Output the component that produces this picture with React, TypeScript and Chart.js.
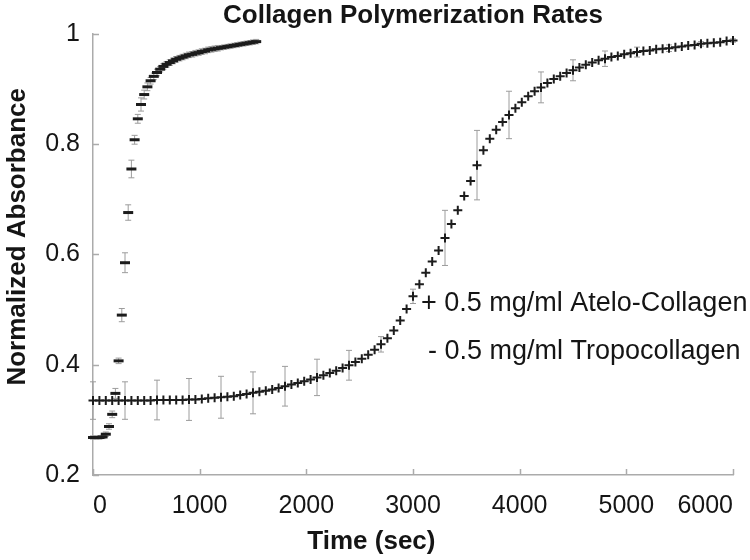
import { useEffect, useRef } from 'react';
import { Chart, registerables } from 'chart.js';

Chart.register(...registerables);

const FONT = '"Liberation Sans", Arial, Helvetica, sans-serif';

const titleText = 'Collagen Polymerization Rates';
const xTitle = 'Time (sec)';
const yTitle = 'Normalized Absorbance';
const labelA = '+ 0.5 mg/ml Atelo-Collagen';
const labelB = '- 0.5 mg/ml Tropocollagen';

const xTickValues = [0, 1000, 2000, 3000, 4000, 5000, 6000];
const yTickValues = [0.2, 0.4, 0.6, 0.8, 1];

// Atelo-collagen (+ markers), sampled every 60 s
const timesA = [
  0, 60, 120, 180, 240, 300, 360, 420, 480, 540,
  600, 660, 720, 780, 840, 900, 960, 1020, 1080, 1140,
  1200, 1260, 1320, 1380, 1440, 1500, 1560, 1620, 1680, 1740,
  1800, 1860, 1920, 1980, 2040, 2100, 2160, 2220, 2280, 2340,
  2400, 2460, 2520, 2580, 2640, 2700, 2760, 2820, 2880, 2940,
  3000, 3060, 3120, 3180, 3240, 3300, 3360, 3420, 3480, 3540,
  3600, 3660, 3720, 3780, 3840, 3900, 3960, 4020, 4080, 4140,
  4200, 4260, 4320, 4380, 4440, 4500, 4560, 4620, 4680, 4740,
  4800, 4860, 4920, 4980, 5040, 5100, 5160, 5220, 5280, 5340,
  5400, 5460, 5520, 5580, 5640, 5700, 5760, 5820, 5880, 5940,
  6000,
];
const valuesA = [
  0.335, 0.335, 0.335, 0.335, 0.335, 0.335, 0.335, 0.335, 0.335, 0.335,
  0.336, 0.336, 0.336, 0.336, 0.336, 0.337, 0.337, 0.338, 0.339, 0.340,
  0.341, 0.342, 0.343, 0.345, 0.347, 0.349, 0.351, 0.353, 0.355, 0.358,
  0.361, 0.364, 0.367, 0.370, 0.373, 0.377, 0.381, 0.385, 0.389, 0.394,
  0.399, 0.405, 0.411, 0.418, 0.427, 0.437, 0.448, 0.462, 0.480, 0.501,
  0.524, 0.546, 0.567, 0.587, 0.607, 0.630, 0.655, 0.680, 0.706, 0.733,
  0.762, 0.789, 0.810, 0.826, 0.840, 0.853, 0.865, 0.876, 0.887, 0.896,
  0.903, 0.911, 0.918, 0.923, 0.929, 0.934, 0.939, 0.944, 0.948, 0.952,
  0.955, 0.958, 0.960, 0.963, 0.965, 0.967, 0.969, 0.970, 0.972, 0.973,
  0.974, 0.976, 0.977, 0.979, 0.980, 0.982, 0.983, 0.984, 0.985, 0.987,
  0.988,
];
// error bars of the atelo-collagen series, every 300 s
const errTimesA = [0, 300, 600, 900, 1200, 1500, 1800, 2100, 2400, 2700, 3000, 3300, 3600, 3900, 4200, 4500, 4800, 5100, 5400, 5700, 6000];
const errValuesA = [0.034, 0.034, 0.036, 0.038, 0.038, 0.038, 0.036, 0.033, 0.027, 0.014, 0.013, 0.05, 0.063, 0.043, 0.028, 0.019, 0.014, 0.009, 0.006, 0.004, 0.003];

// Tropocollagen (- markers), sampled every 30 s
const timesB = [
  0, 30, 60, 90, 120, 150, 180, 210, 240, 270,
  300, 330, 360, 390, 420, 450, 480, 510, 540, 570,
  600, 630, 660, 690, 720, 750, 780, 810, 840, 870,
  900, 930, 960, 990, 1020, 1050, 1080, 1110, 1140, 1170,
  1200, 1230, 1260, 1290, 1320, 1350, 1380, 1410, 1440, 1470,
  1500, 1530,
];
const valuesB = [
  0.268, 0.268, 0.268, 0.269, 0.274, 0.288, 0.310, 0.348, 0.407, 0.490,
  0.585, 0.676, 0.755, 0.808, 0.846, 0.872, 0.890, 0.904, 0.915, 0.923,
  0.930, 0.936, 0.941, 0.945, 0.948, 0.951, 0.954, 0.956, 0.958, 0.960,
  0.962, 0.963, 0.965, 0.966, 0.968, 0.969, 0.971, 0.972, 0.973, 0.974,
  0.975, 0.976, 0.977, 0.978, 0.979, 0.980, 0.981, 0.982, 0.983, 0.984,
  0.985, 0.986,
];
const errValuesB = [
  0.003, 0.003, 0.003, 0.003, 0.004, 0.005, 0.006, 0.009, 0.005, 0.012,
  0.018, 0.014, 0.016, 0.008, 0.008, 0.012, 0.008, 0.007, 0.006, 0.006,
  0.006, 0.005, 0.005, 0.005, 0.005, 0.005, 0.005, 0.005, 0.005, 0.005,
  0.005, 0.005, 0.005, 0.005, 0.005, 0.005, 0.005, 0.005, 0.005, 0.005,
  0.004, 0.004, 0.004, 0.004, 0.004, 0.004, 0.004, 0.004, 0.004, 0.004,
  0.004, 0.004,
];

const AXIS_COLOR = '#ababab';
const TEXT_COLOR = '#151515';
const MARK_COLOR = '#1c1c1c';
const ERR_COLOR = '#9c9c9c';

function drawErr(ctx: CanvasRenderingContext2D, xs: any, ys: any, t: number, v: number, e: number) {
  if (!e) return;
  const x = xs.getPixelForValue(t);
  const y1 = ys.getPixelForValue(v + e);
  const y2 = ys.getPixelForValue(v - e);
  ctx.beginPath();
  ctx.moveTo(x, y1);
  ctx.lineTo(x, y2);
  ctx.moveTo(x - 3, y1);
  ctx.lineTo(x + 3, y1);
  ctx.moveTo(x - 3, y2);
  ctx.lineTo(x + 3, y2);
  ctx.stroke();
}

const errorBarPlugin = {
  id: 'errorBarsAndTicks',
  beforeDatasetsDraw(chart: any) {
    const { ctx, chartArea } = chart;
    const xs = chart.scales.x;
    const ys = chart.scales.y;
    ctx.save();
    // inner tick marks
    ctx.strokeStyle = AXIS_COLOR;
    ctx.lineWidth = 1.5;
    ctx.beginPath();
    ys.ticks.forEach((tk: any) => {
      const y = Math.round(ys.getPixelForValue(tk.value)) + 0.5;
      ctx.moveTo(chartArea.left, y);
      ctx.lineTo(chartArea.left + 6, y);
    });
    xs.ticks.forEach((tk: any) => {
      const x = Math.round(xs.getPixelForValue(tk.value)) + 0.5;
      ctx.moveTo(x, chartArea.bottom);
      ctx.lineTo(x, chartArea.bottom - 6);
    });
    ctx.stroke();
    // error bars
    ctx.strokeStyle = ERR_COLOR;
    ctx.lineWidth = 1;
    errTimesA.forEach((t, j) => {
      const idx = timesA.indexOf(t);
      if (idx >= 0) drawErr(ctx, xs, ys, t, valuesA[idx], errValuesA[j]);
    });
    timesB.forEach((t, k) => drawErr(ctx, xs, ys, t, valuesB[k], errValuesB[k]));
    ctx.restore();
  },
  afterDraw(chart: any) {
    const { ctx, chartArea } = chart;
    ctx.save();
    ctx.fillStyle = TEXT_COLOR;
    // x axis title
    ctx.font = `bold 26px ${FONT}`;
    ctx.textAlign = 'center';
    ctx.textBaseline = 'alphabetic';
    ctx.fillText(xTitle, chartArea.left + (chartArea.right - chartArea.left) * 0.435, 549);
    // y axis title
    ctx.save();
    ctx.translate(25, chartArea.top + (chartArea.bottom - chartArea.top) * 0.46);
    ctx.rotate(-Math.PI / 2);
    ctx.fillText(yTitle, 0, 0);
    ctx.restore();
    // legend texts
    ctx.font = `27px ${FONT}`;
    ctx.textAlign = 'left';
    const ds = chart.data.datasets;
    ctx.fillText(ds[0].label, 421, 311);
    ctx.fillText(ds[1].label, 428, 359);
    ctx.restore();
  },
};

export default function App() {
  const ref = useRef<HTMLCanvasElement | null>(null);
  useEffect(() => {
    if (!ref.current) return;
    const chart = new Chart(ref.current, {
      type: 'scatter',
      data: {
        datasets: [
          {
            label: labelA,
            data: timesA.map((t, i) => ({ x: t, y: valuesA[i] })),
            pointStyle: 'cross',
            pointRadius: 4.5,
            pointBorderWidth: 2,
            borderColor: MARK_COLOR,
            backgroundColor: MARK_COLOR,
            showLine: false,
            clip: false,
          },
          {
            label: labelB,
            data: timesB.map((t, i) => ({ x: t, y: valuesB[i] })),
            pointStyle: 'line',
            pointRadius: 5,
            pointBorderWidth: 3,
            borderColor: MARK_COLOR,
            backgroundColor: MARK_COLOR,
            showLine: false,
            clip: false,
          },
        ],
      },
      options: {
        responsive: false,
        animation: false,
        events: [],
        layout: { padding: { left: 0, right: 17, top: 0, bottom: 0 } },
        plugins: {
          legend: { display: false },
          tooltip: { enabled: false },
          title: {
            display: true,
            text: titleText,
            fullSize: false,
            color: TEXT_COLOR,
            font: { family: FONT, size: 26, weight: 'bold', lineHeight: 1.15 },
            padding: { top: 1, bottom: 3 },
          },
        },
        scales: {
          x: {
            type: 'linear',
            min: 0,
            max: 6000,
            afterBuildTicks: (s: any) => {
              s.ticks = xTickValues.map((v) => ({ value: v }));
            },
            afterFit: (s: any) => {
              s.height = 85;
              s.paddingLeft = 0;
              s.paddingRight = 0;
            },
            grid: { display: false, drawTicks: false },
            border: { display: true, color: AXIS_COLOR, width: 1.5 },
            ticks: {
              align: 'inner',
              padding: 16,
              maxRotation: 0,
              autoSkip: false,
              color: TEXT_COLOR,
              font: { family: FONT, size: 25 },
              callback: (v: any) => String(v),
            },
          },
          y: {
            type: 'linear',
            min: 0.2,
            max: 1,
            afterBuildTicks: (s: any) => {
              s.ticks = yTickValues.map((v) => ({ value: v }));
            },
            afterFit: (s: any) => {
              s.width = 93;
              s.paddingTop = 0;
              s.paddingBottom = 0;
            },
            grid: { display: false, drawTicks: false },
            border: { display: true, color: AXIS_COLOR, width: 1.5 },
            ticks: {
              padding: 13,
              autoSkip: false,
              color: TEXT_COLOR,
              font: { family: FONT, size: 25 },
              callback: (v: any) => (v === 1 ? '1' : Number(v).toFixed(1)),
            },
          },
        },
      },
      plugins: [errorBarPlugin],
    } as any);
    return () => chart.destroy();
  }, []);
  return (
    <div style={{ position: 'absolute', left: 0, top: 0, width: 750, height: 560, background: '#fff' }}>
      <canvas ref={ref} width={750} height={560} style={{ display: 'block' }} />
    </div>
  );
}
